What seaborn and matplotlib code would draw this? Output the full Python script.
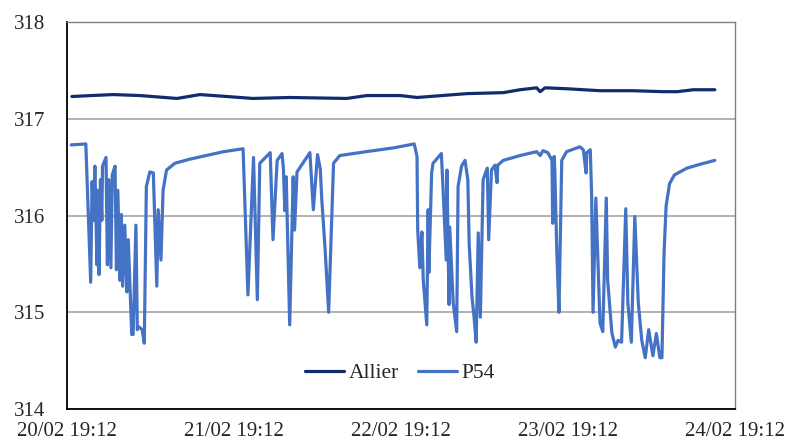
import pandas as pd
import matplotlib.pyplot as plt
import matplotlib.dates as mdates
import seaborn as sns

sns.set_style("white")
plt.rcParams['font.family'] = ['Liberation Serif', 'DejaVu Serif']

# Colours of the two gauges
palette = {"Allier": "#102C6C", "P54": "#4472C4"}

start = pd.Timestamp("2023-02-20 19:12")

# Allier river level (hours since start, level in m)
allier_hours = [0.7, 3.5, 6.6, 10.5, 15.8, 19.1, 23.0, 26.7, 32.0, 40.2, 43.1,
                47.9, 50.3, 57.5, 62.7, 65.1, 67.5, 68.0, 68.7, 71.9, 76.6,
                81.3, 85.7, 87.7, 90.0, 93.1]
allier_level = [317.23, 317.24, 317.25, 317.24, 317.21, 317.25, 317.23, 317.21,
                317.22, 317.21, 317.24, 317.24, 317.22, 317.26, 317.27, 317.30,
                317.32, 317.28, 317.32, 317.31, 317.29, 317.29, 317.28, 317.28,
                317.30, 317.30]

# P54 well level (hours since start, level in m)
p54_hours = [0.6, 2.7, 3.4, 3.6, 3.8, 4.0, 4.3, 4.4, 4.6, 4.8, 5.0, 5.1, 5.6,
             5.8, 6.0, 6.3, 6.5, 6.9, 7.1, 7.3, 7.6, 7.8, 8.0, 8.3, 8.6, 8.8,
             9.3, 9.5, 9.9, 10.1, 10.3, 10.8, 11.1, 11.4, 11.9, 12.4, 12.9,
             13.1, 13.5, 13.8, 14.3, 15.5, 17.5, 20.0, 22.5, 25.3,
             26.0, 26.8, 27.35, 27.7, 29.2, 29.6, 30.2, 30.9, 31.1, 31.3, 31.5,
             32.0, 32.5, 32.7, 33.05, 34.9, 35.4, 36.0, 36.4, 36.6, 37.1, 37.6,
             38.3, 39.2, 43.0, 47.0, 49.9,
             50.3, 50.4, 50.7, 51.0, 51.2, 51.7, 51.9, 52.0, 52.4, 52.6, 53.8,
             54.0, 54.5, 54.6, 54.9, 55.0, 55.5, 56.0, 56.2, 56.7, 57.2, 57.6,
             57.8, 58.2, 58.5, 58.8, 59.1, 59.4, 59.8, 60.4, 60.6, 61.0, 61.5,
             61.8, 61.9, 62.7, 65.1, 67.5, 68.0, 68.4, 69.1, 69.7, 69.8, 70.0,
             70.1, 70.4, 70.7, 71.1, 71.8, 73.7, 74.2, 74.6, 74.7, 75.2, 75.4,
             75.6, 76.0, 76.6, 77.0, 77.5, 77.7, 78.3, 78.8, 79.2, 79.7, 80.3,
             80.6, 81.1, 81.6, 82.1, 82.6, 83.1, 83.6, 84.2, 84.7, 85.2, 85.5,
             85.8, 86.1, 86.6, 87.3, 89.1, 91.0, 93.1]
p54_level = [316.73, 316.74, 315.31, 316.35, 315.95, 316.51, 315.49, 316.26,
             315.39, 316.37, 315.95, 316.51, 316.60, 315.49, 316.37, 315.46,
             316.42, 316.51, 315.44, 316.26, 315.33, 316.01, 315.27, 315.90,
             315.21, 315.75, 314.77, 314.77, 315.90, 314.82, 314.85, 314.82,
             314.68, 316.30, 316.45, 316.44, 315.27, 316.06, 315.54, 316.26,
             316.47, 316.54, 316.58, 316.62, 316.66, 316.69,
             315.18, 316.60, 315.13, 316.54, 316.65, 315.75, 316.57, 316.64,
             316.48, 316.05, 316.40, 314.87, 316.40, 315.85, 316.45, 316.65,
             316.06, 316.63, 316.48, 316.18, 315.64, 315.00, 316.54, 316.62,
             316.66, 316.70, 316.74,
             316.61, 315.85, 315.46, 315.83, 315.33, 314.87, 316.06, 315.41,
             316.44, 316.54, 316.64, 316.34, 315.54, 316.47, 315.08, 315.88,
             315.10, 314.80, 316.30, 316.51, 316.57, 316.37, 315.70, 315.16,
             314.95, 314.69, 315.82, 314.95, 316.37, 316.49, 315.75, 316.47,
             316.52, 316.34, 316.52, 316.57, 316.62, 316.66, 316.62, 316.67,
             316.65, 316.57, 315.92, 316.61, 316.47, 315.61, 315.00, 316.57,
             316.66, 316.71, 316.68, 316.44, 316.65, 316.68, 316.20, 315.00,
             316.18, 314.89, 314.80, 316.18, 315.33, 314.79, 314.64, 314.71,
             314.69, 316.07, 315.10, 314.69, 315.99, 315.10, 314.71, 314.53,
             314.82, 314.55, 314.78, 314.53, 314.53, 315.60, 316.10, 316.33,
             316.42, 316.49, 316.53, 316.57]

df = pd.concat([
    pd.DataFrame({"time": start + pd.to_timedelta(allier_hours, unit="h"),
                  "level": allier_level, "site": "Allier"}),
    pd.DataFrame({"time": start + pd.to_timedelta(p54_hours, unit="h"),
                  "level": p54_level, "site": "P54"}),
])

fig, ax = plt.subplots(figsize=(7.85, 4.43), dpi=100)
fig.subplots_adjust(left=0.0854, right=0.9363, bottom=0.0767, top=0.9503)

sns.lineplot(data=df, x="time", y="level", hue="site", palette=palette,
             estimator=None, sort=False, linewidth=2.3,
             solid_joinstyle="round", solid_capstyle="round", ax=ax)

ax.set_xlim(start, start + pd.Timedelta(days=4))
ax.set_ylim(314, 318)
ax.set_yticks([314, 315, 316, 317, 318])
ax.set_xticks([start + pd.Timedelta(days=d) for d in range(5)])
ax.xaxis.set_major_formatter(mdates.DateFormatter("%d/%m %H:%M"))
ax.set_xlabel("")
ax.set_ylabel("")

ax.yaxis.grid(True, color="#A6A6A6", linewidth=1.2)
ax.set_axisbelow(True)
for side in ["left", "bottom"]:
    ax.spines[side].set_color("black")
    ax.spines[side].set_linewidth(1.3)
for side in ["top", "right"]:
    ax.spines[side].set_color("#7F7F7F")
    ax.spines[side].set_linewidth(1.0)

ax.tick_params(axis="y", length=0, pad=16, labelsize=15)
ax.tick_params(axis="x", direction="in", length=5, width=1, color="black",
               pad=9, labelsize=15)

handles, labels = ax.get_legend_handles_labels()
ax.legend(handles, labels, loc="center", bbox_to_anchor=(0.4985, 0.093),
          ncol=2, frameon=False, fontsize=15.5, handlelength=1.8,
          handletextpad=0.2, columnspacing=0.9)

plt.savefig("out.png")
plt.close()
